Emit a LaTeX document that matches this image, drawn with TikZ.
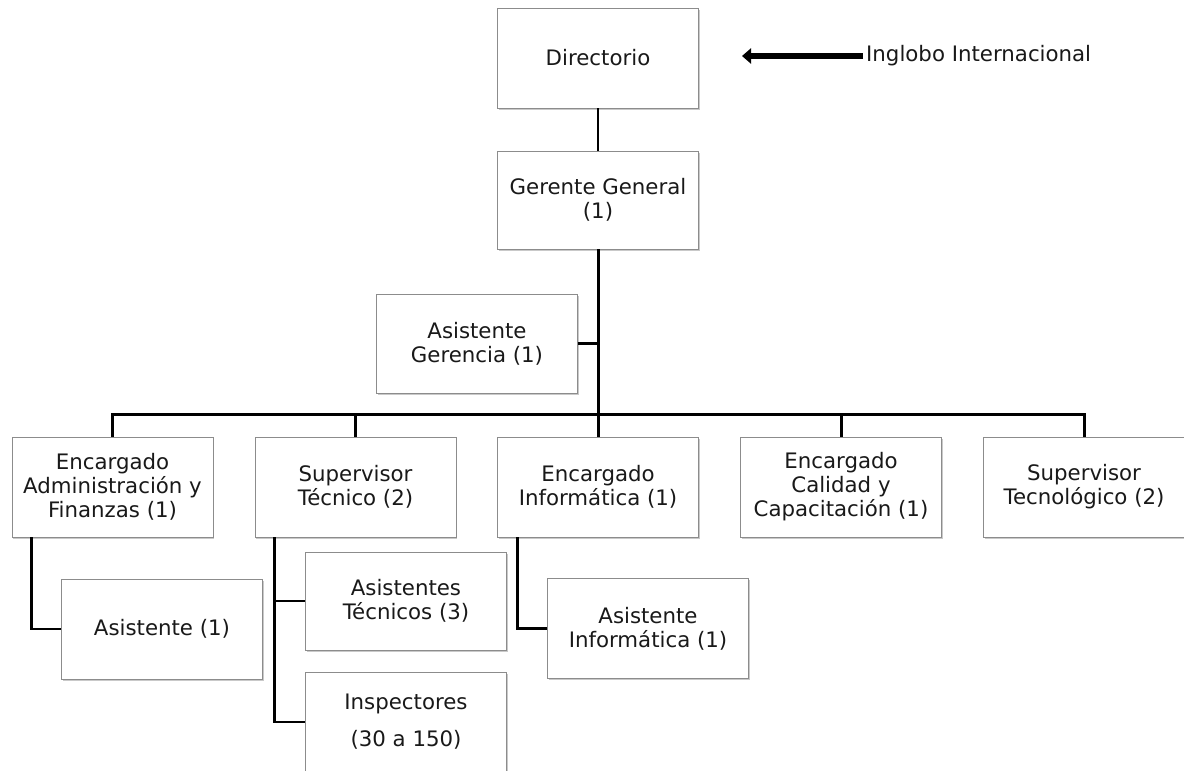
\documentclass[tikz,border=0pt]{standalone}
\usepackage{fontspec}
\setmainfont{DejaVu Sans}
\usetikzlibrary{shadows,arrows.meta}
\begin{document}
\begin{tikzpicture}[x=1pt,y=-1pt,
  box/.style={draw=black!45, line width=0.9pt, fill=white, minimum width=201pt,
    minimum height=100pt, inner sep=0pt, align=center, text=black!90,
    font=\fontsize{21.3}{24}\selectfont,
    drop shadow={shadow xshift=1.2pt, shadow yshift=-1.8pt, fill=black!35, opacity=0.6}},
  conn/.style={line width=2.6pt, black},
  busline/.style={line width=3pt, black},
  lbl/.style={inner sep=0pt, text=black!90, font=\fontsize{21.3}{24}\selectfont},
]
\clip (0,0) rectangle (1184,771);
\fill[white] (0,0) rectangle (1184,771);

\node[box] (dir) at (598,58) {Directorio};
\node[box, minimum height=98pt] (ger) at (598,200) {Gerente General\\(1)};
\node[box, minimum height=99pt] (asg) at (477,343.5) {Asistente\\Gerencia (1)};
\node[box] (adm) at (112.5,487) {Encargado\\Administración y\\Finanzas (1)};
\node[box] (sup) at (355.5,487) {Supervisor\\Técnico (2)};
\node[box] (inf) at (598,487) {Encargado\\Informática (1)};
\node[box] (cal) at (841,487) {Encargado\\Calidad y\\Capacitación (1)};
\node[box] (tec) at (1084,487) {Supervisor\\Tecnológico (2)};
\node[box] (as1) at (162,629) {Asistente (1)};
\node[box, minimum height=98pt] (ast) at (406,601) {Asistentes\\Técnicos (3)};
\node[box] (ins) at (406,722) {Inspectores\\[13pt](30 a 150)};
\node[box] (asi) at (648,628.5) {Asistente\\Informática (1)};

\node[lbl, anchor=west] (ing) at (866,56) {Inglobo Internacional};
\coordinate (tip) at (742,56);
\draw[line width=6pt, -{Triangle[length=9pt,width=15pt]}] ([xshift=-3pt]ing.west) -- (tip |- ing.west);

\coordinate (bus) at (598,414);
\coordinate (suptrunk) at ([xshift=20pt]sup.south west);
\draw[conn] (dir.south) -- (ger.north);
\draw[busline] (ger.south) -- (bus);
\draw[line width=2.2pt] (asg.east) -- (asg.east -| ger.south);
\draw[busline] (adm.north) -- (adm.north |- bus) -- (tec.north |- bus) -- (tec.north);
\draw[busline] (sup.north) -- (sup.north |- bus);
\draw[busline] (inf.north) -- (bus);
\draw[busline] (cal.north) -- (cal.north |- bus);

\draw[conn] ([xshift=20pt]adm.south west) |- (as1.west);
\draw[conn] (suptrunk) |- (ins.west);
\draw[conn] (ast.west) -- (ast.west -| suptrunk);
\draw[conn] ([xshift=20.5pt]inf.south west) |- (asi.west);
\end{tikzpicture}
\end{document}
